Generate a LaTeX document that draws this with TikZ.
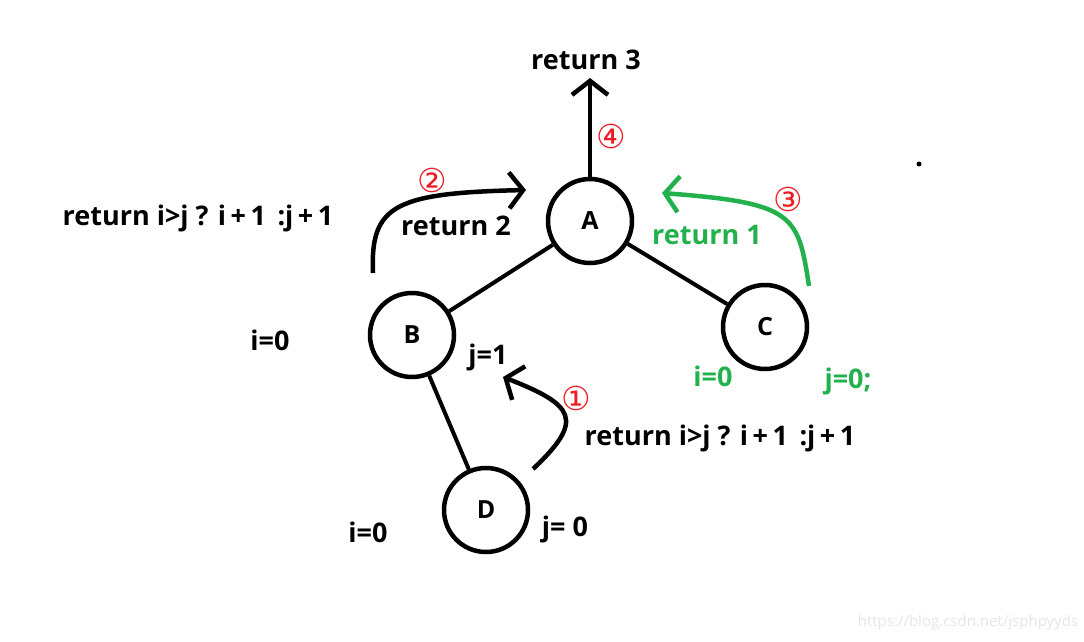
\documentclass[tikz,border=0pt]{standalone}
\usepackage{fontspec}
\setmainfont{Open Sans}
\newfontfamily\circfont{DejaVu Sans}
\usepackage{xcolor}
\usepackage{tikz}
\usetikzlibrary{arrows.meta,positioning,calc}

\definecolor{paintgreen}{RGB}{34,177,76}
\definecolor{paintred}{RGB}{237,28,36}

\begin{document}
\begin{tikzpicture}[x=1pt,y=-1pt,
  tnode/.style={circle,draw,line width=4.5pt,minimum size=84pt,inner sep=0pt,font=\bfseries\fontsize{25}{30}\selectfont},
  edge/.style={line width=4pt},
  flow/.style={line width=4.5pt,-{Straight Barb[length=14pt,width=36pt,line width=4.5pt]}},
  lab/.style={font=\bfseries\fontsize{27}{32}\selectfont},
  num/.style={text=paintred,font=\circfont\fontsize{33}{36}\selectfont}]
\useasboundingbox (0,0) rectangle (1084,642);
% tree
\node[tnode] (A) at (590,221) {A};
\node[tnode] (B) at (412,335) {B};
\node[tnode] (C) at (765,327) {C};
\node[tnode] (D) at (486,510) {D};
\draw[edge] (A) -- (B);
\draw[edge] (A) -- (C);
\draw[edge] (B) -- (D);
% texts
\node[lab] (r3) at (586,60) {return 3};
\node[lab] (r2) at (456,226) {return 2};
\node[lab] (rl) at (198,218) {return i>j ? i\,+\,1 \,:j\,+\,1};
\node[lab] (rr) at (720,438) {return i>j ? i\,+\,1 \,:j\,+\,1};
\node[lab,text=paintgreen] (r1) at (707,235) {return 1};
\foreach \nm/\pos/\txt in {ib/{270,340}/i=0, jb/{488,357}/j=1, id/{368,532}/i=0, jd/{565,529}/j= 0}{
  \node[lab] (\nm) at (\pos) {\txt};
}
\node[lab,text=paintgreen] (ic) at (713,376) {i=0};
\node[lab,text=paintgreen] (jc) at (848,381) {j=0;};
\foreach \nm/\pos/\txt in {n1/{576,398}/①, n2/{432,180}/②, n3/{788,199}/③, n4/{611,136}/④}{
  \node[num] (\nm) at (\pos) {\txt};
}
% arrows
\coordinate (t4) at (590,78);
\coordinate (s2) at (373,273);
\coordinate (t2) at (526,190);
\coordinate (s3) at (809,286);
\coordinate (t3) at (662,193);
\coordinate (s1) at (533,469);
\coordinate (t1) at (503,377);
\draw[flow] (A) -- (t4);
\draw[flow] (s2) .. controls (370,205) and (395,193) .. (t2);
\draw[flow,paintgreen] (s3) .. controls (798,215) and (795,203) .. (t3);
\draw[flow] (s1) .. controls (585,420) and (575,405) .. (t1);
\fill (919,164) circle (2.5pt);
\node[text=black!10,font=\fontsize{15}{18}\selectfont] (wm) at (968,623) {https://blog.csdn.net/jsphpyyds};
\end{tikzpicture}
\end{document}
